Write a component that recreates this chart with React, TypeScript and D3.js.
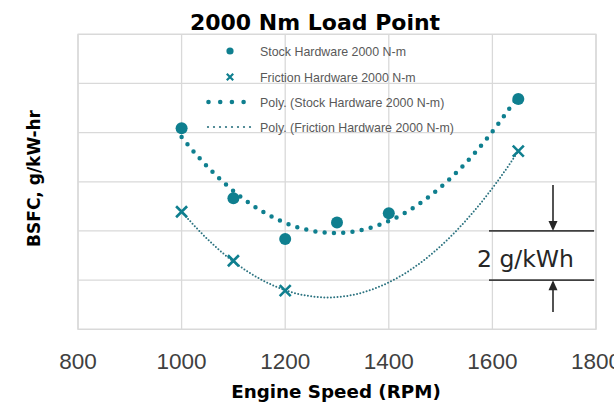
import React from "react";
import * as d3 from "d3";

const stockRpm = [1000, 1100, 1200, 1300, 1400, 1650];
const stockBsfc = [204.18, 201.33, 199.67, 200.34, 200.72, 205.37];
const frictionRpm = [1000, 1100, 1200, 1650];
const frictionBsfc = [200.78, 198.79, 197.57, 203.25];
const xTicks = [800, 1000, 1200, 1400, 1600, 1800];
const yGrid = [196, 198, 200, 202, 204, 206, 208];
const legendLabels = [
  "Stock Hardware 2000 N-m",
  "Friction Hardware 2000 N-m",
  "Poly. (Stock Hardware 2000 N-m)",
  "Poly. (Friction Hardware 2000 N-m)",
];
const annotationRange = [200, 198];

const TEAL = "#0f7f8f";
const TEAL_DARK = "#2c7380";
const GRID = "#d9d9d9";

// least-squares quadratic fit (Excel "Poly." order 2 trendline)
function polyFit2(xs: number[], ys: number[]) {
  const x0 = 1300, s = 100;
  let S = [0, 0, 0, 0, 0], T = [0, 0, 0];
  xs.forEach((x, i) => {
    const u = (x - x0) / s;
    for (let k = 0; k < 5; k++) S[k] += Math.pow(u, k);
    for (let k = 0; k < 3; k++) T[k] += ys[i] * Math.pow(u, k);
  });
  const A = [
    [S[0], S[1], S[2], T[0]],
    [S[1], S[2], S[3], T[1]],
    [S[2], S[3], S[4], T[2]],
  ];
  for (let i = 0; i < 3; i++) {
    let p = i;
    for (let r = i + 1; r < 3; r++) if (Math.abs(A[r][i]) > Math.abs(A[p][i])) p = r;
    [A[i], A[p]] = [A[p], A[i]];
    for (let r = 0; r < 3; r++) {
      if (r === i) continue;
      const f = A[r][i] / A[i][i];
      for (let c = i; c < 4; c++) A[r][c] -= f * A[i][c];
    }
  }
  const c = [A[0][3] / A[0][0], A[1][3] / A[1][1], A[2][3] / A[2][2]];
  return (x: number) => {
    const u = (x - x0) / s;
    return c[0] + c[1] * u + c[2] * u * u;
  };
}

export default function App() {
  const W = 614, H = 404;
  const x = d3.scaleLinear().domain([800, 1800]).range([78, 596]);
  const y = d3.scaleLinear().domain([196, 208]).range([329.3, 34.3]);

  const stockFit = polyFit2(stockRpm, stockBsfc);
  const fricFit = polyFit2(frictionRpm, frictionBsfc);
  const line = d3
    .line<number>()
    .x((d) => x(d))
    .curve(d3.curveLinear);
  const sampleXs = (a: number, b: number) => d3.range(a, b + 0.001, 5);
  const stockPath = line.y((d) => y(stockFit(d)))(sampleXs(d3.min(stockRpm)!, d3.max(stockRpm)!));
  const fricPath = d3
    .line<number>()
    .x((d) => x(d))
    .y((d) => y(fricFit(d)))(sampleXs(d3.min(frictionRpm)!, d3.max(frictionRpm)!));

  const cross = (cx: number, cy: number, r: number, sw: number, key?: string) => (
    <path
      key={key}
      d={`M${cx - r},${cy - r}L${cx + r},${cy + r}M${cx - r},${cy + r}L${cx + r},${cy - r}`}
      stroke={TEAL}
      strokeWidth={sw}
      fill="none"
    />
  );

  const legendY = [51, 77, 102, 127];
  const annX = 553;
  const yTop = y(annotationRange[0]);
  const yBot = y(annotationRange[1]);

  return (
    <svg width={W} height={H} style={{ position: "absolute", left: 0, top: 0, background: "#fff" }}>
      {/* gridlines */}
      {yGrid.map((v) => (
        <line key={"gy" + v} x1={x(800)} x2={x(1800)} y1={y(v)} y2={y(v)} stroke={GRID} strokeWidth={1.3} />
      ))}
      {xTicks.map((v) => (
        <line key={"gx" + v} x1={x(v)} x2={x(v)} y1={y(208)} y2={y(196)} stroke={GRID} strokeWidth={1.3} />
      ))}
      <rect x={x(800)} y={y(208)} width={x(1800) - x(800)} height={y(196) - y(208)} fill="none" stroke={GRID} strokeWidth={1.3} />

      {/* tick labels */}
      {xTicks.map((v) => (
        <text key={"tx" + v} x={x(v)} y={369} textAnchor="middle" fontFamily="Liberation Sans, Arial, sans-serif" fontSize={22.5} fill="#404040">
          {v}
        </text>
      ))}

      {/* title and axis labels */}
      <text x={315} y={30} textAnchor="middle" fontFamily="DejaVu Sans, sans-serif" fontWeight="bold" fontSize={22} fill="#000">
        2000 Nm Load Point
      </text>
      <text x={336} y={398} textAnchor="middle" fontFamily="DejaVu Sans, sans-serif" fontWeight="bold" fontSize={18.3} fill="#000">
        Engine Speed (RPM)
      </text>
      <text
        transform={`translate(40,178.5) rotate(-90)`}
        textAnchor="middle"
        fontFamily="DejaVu Sans, sans-serif"
        fontWeight="bold"
        fontSize={17}
        fill="#000"
      >
        BSFC, g/kW-hr
      </text>

      {/* trendlines */}
      <path d={stockPath || ""} fill="none" stroke={TEAL} strokeWidth={4.5} strokeLinecap="round" strokeDasharray="0 9.3" />
      <path d={fricPath || ""} fill="none" stroke={TEAL_DARK} strokeWidth={2} strokeLinecap="round" strokeDasharray="0 3.3" />

      {/* markers */}
      {stockRpm.map((r, i) => (
        <circle key={"s" + r} cx={x(r)} cy={y(stockBsfc[i])} r={6} fill={TEAL} />
      ))}
      {frictionRpm.map((r, i) => cross(x(r), y(frictionBsfc[i]), 5.5, 2.6, "f" + r))}

      {/* legend */}
      <circle cx={230} cy={legendY[0]} r={3.6} fill={TEAL} />
      {cross(230, legendY[1], 3.2, 2.2)}
      {[0, 1, 2, 3].map((k) => (
        <circle key={"ld" + k} cx={208.5 + k * 11.7} cy={legendY[2]} r={2.3} fill={TEAL} />
      ))}
      {d3.range(8).map((k) => (
        <circle key={"lf" + k} cx={208 + k * 6} cy={legendY[3]} r={1.1} fill={TEAL_DARK} />
      ))}
      {legendLabels.map((t, i) => (
        <text key={t} x={260} y={legendY[i] + 4.5} fontFamily="Liberation Sans, Arial, sans-serif" fontSize={12.4} fill="#595959">
          {t}
        </text>
      ))}

      {/* annotation */}
      <g stroke="#404040" strokeWidth={1.8}>
        <line x1={489} x2={594} y1={yTop} y2={yTop} />
        <line x1={489} x2={594} y1={yBot} y2={yBot} />
        <line x1={annX} x2={annX} y1={185} y2={yTop - 8} />
        <line x1={annX} x2={annX} y1={312} y2={yBot + 8} />
      </g>
      <path d={`M${annX - 4.5},${yTop - 10}L${annX + 4.5},${yTop - 10}L${annX},${yTop}Z`} fill="#262626" />
      <path d={`M${annX - 4.5},${yBot + 10}L${annX + 4.5},${yBot + 10}L${annX},${yBot}Z`} fill="#262626" />
      <text x={477} y={267} fontFamily="DejaVu Sans, sans-serif" fontSize={23.5} fill="#262626">
        2 g/kWh
      </text>
    </svg>
  );
}
